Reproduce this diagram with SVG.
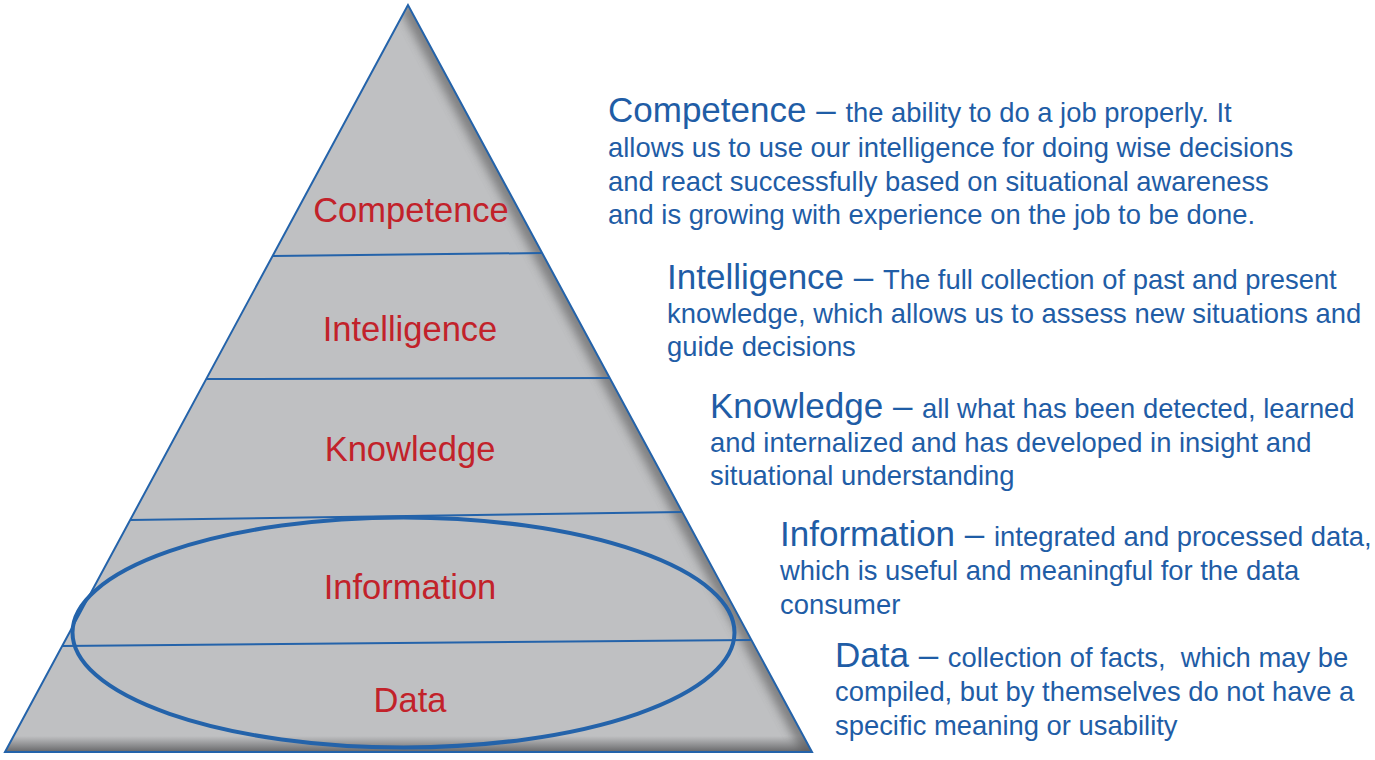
<svg xmlns="http://www.w3.org/2000/svg" width="1375" height="760" viewBox="0 0 1375 760">
  <style>
    .lbl { font-family: "Liberation Sans", Arial, sans-serif; font-size: 34.5px; fill: #C2222A; text-anchor: middle; }
    .desc { font-family: "Liberation Sans", Arial, sans-serif; fill: #1F5DA6; }
    .h { font-size: 35px; }
    .b { font-size: 27.4px; }
    .div { stroke: #2463AA; stroke-width: 2; fill: none; }
    .edge { stroke: #2463AA; stroke-width: 2; fill: none; stroke-linejoin: miter; }
  </style>
  <defs>
    <clipPath id="tri">
      <polygon points="408,5 5,752 812,752"/>
    </clipPath>
    <linearGradient id="baseShade" x1="0" y1="0" x2="0" y2="1">
      <stop offset="0" stop-color="#5a5a5c" stop-opacity="0"/>
      <stop offset="1" stop-color="#505052" stop-opacity="0.85"/>
    </linearGradient>
    <filter id="blur" x="-20%" y="-20%" width="140%" height="140%">
      <feGaussianBlur stdDeviation="5"/>
    </filter>
  </defs>
  <rect width="1375" height="760" fill="#ffffff"/>

  <g id="pyramid">
    <polygon points="408,5 5,752 812,752" fill="#BFC0C2"/>
    <g clip-path="url(#tri)">
      <line x1="408" y1="5" x2="812" y2="752" stroke="#6a6a6c" stroke-width="18" filter="url(#blur)" opacity="0.75"/>
      <rect x="0" y="736" width="820" height="17" fill="url(#baseShade)"/>
    </g>
    <polygon class="edge" points="408,5 5,752 812,752"/>
  </g>

  <g id="connectors">
    <line class="div" x1="273" y1="256" x2="542" y2="253"/>
    <line class="div" x1="206" y1="379" x2="609" y2="378"/>
    <line class="div" x1="130" y1="520" x2="682" y2="512"/>
    <line class="div" x1="62" y1="646" x2="751" y2="640"/>
  </g>

  <g id="focus-ellipse">
    <ellipse cx="403.5" cy="632.5" rx="331" ry="115" fill="none" stroke="#2463AA" stroke-width="4"/>
  </g>

  <g id="layer-competence">
    <text class="lbl" x="411" y="222">Competence</text>
  </g>
  <g id="layer-intelligence">
    <text class="lbl" x="410" y="341">Intelligence</text>
  </g>
  <g id="layer-knowledge">
    <text class="lbl" x="410" y="461">Knowledge</text>
  </g>
  <g id="layer-information">
    <text class="lbl" x="410" y="599">Information</text>
  </g>
  <g id="layer-data">
    <text class="lbl" x="410" y="712">Data</text>
  </g>

  <g id="desc-competence">
    <text class="desc" x="608" y="122"><tspan class="h">Competence – </tspan><tspan class="b">the ability to do a job properly. It</tspan></text>
    <text class="desc b" x="608" y="157">allows us to use our intelligence for doing wise decisions</text>
    <text class="desc b" x="608" y="191">and react successfully based on situational awareness</text>
    <text class="desc b" x="608" y="224">and is growing with experience on the job to be done.</text>
  </g>
  <g id="desc-intelligence">
    <text class="desc" x="667" y="289"><tspan class="h">Intelligence – </tspan><tspan class="b">The full collection of past and present</tspan></text>
    <text class="desc b" x="667" y="323">knowledge, which allows us to assess new situations and</text>
    <text class="desc b" x="667" y="356">guide decisions</text>
  </g>
  <g id="desc-knowledge">
    <text class="desc" x="710" y="418"><tspan class="h">Knowledge – </tspan><tspan class="b">all what has been detected, learned</tspan></text>
    <text class="desc b" x="710" y="452">and internalized and has developed in insight and</text>
    <text class="desc b" x="710" y="485">situational understanding</text>
  </g>
  <g id="desc-information">
    <text class="desc" x="780" y="546"><tspan class="h">Information – </tspan><tspan class="b">integrated and processed data,</tspan></text>
    <text class="desc b" x="780" y="580">which is useful and meaningful for the data</text>
    <text class="desc b" x="780" y="614">consumer</text>
  </g>
  <g id="desc-data">
    <text class="desc" x="835" y="667"><tspan class="h">Data – </tspan><tspan class="b">collection of facts,&#160; which may be</tspan></text>
    <text class="desc b" x="835" y="701">compiled, but by themselves do not have a</text>
    <text class="desc b" x="835" y="735">specific meaning or usability</text>
  </g>
</svg>
